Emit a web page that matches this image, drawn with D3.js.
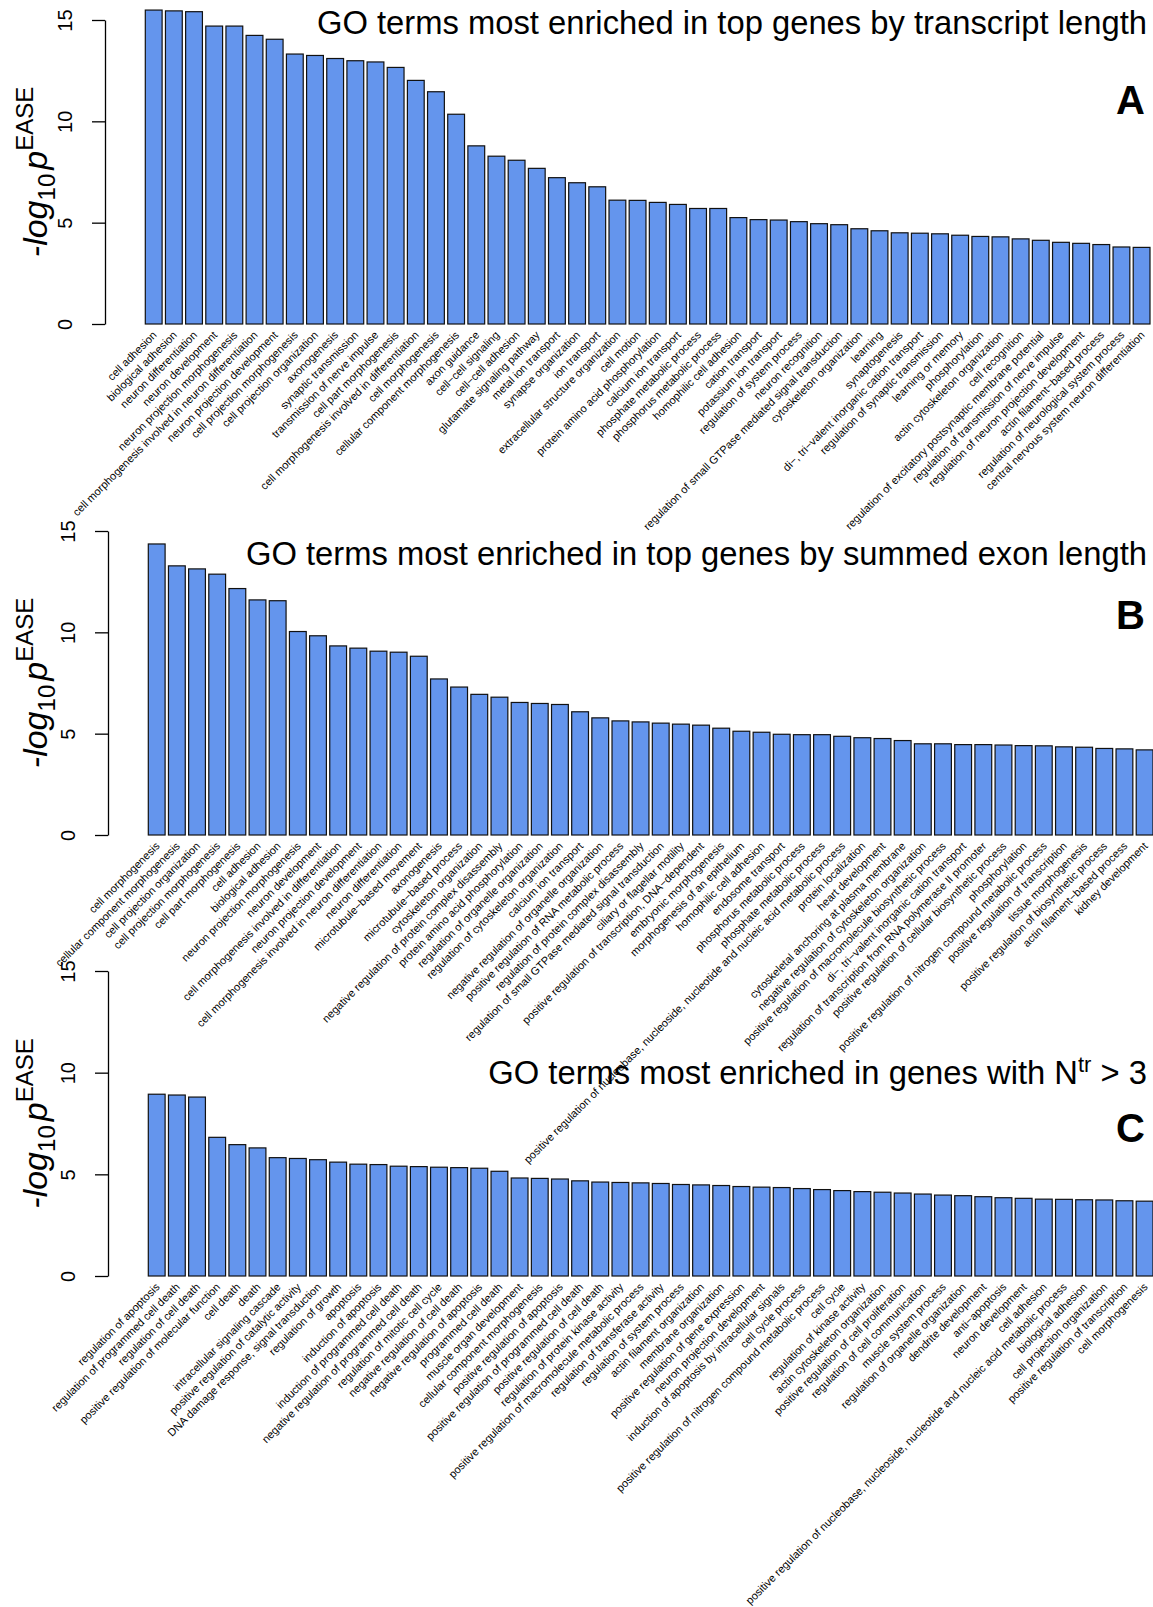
<!DOCTYPE html>
<html>

<head>
  <meta charset="utf-8">
  <title>GO terms</title>
  <style>
    body { margin: 0; background: #fff; }
    text { font-family: "Liberation Sans", Arial, Helvetica, sans-serif; }
  </style>
</head>

<body>
  <svg width="1153" height="1607"></svg>
  <script src="https://d3js.org/d3.v7.min.js"></script>
  <script>
    // ---- data ----
    var yTicks = [0, 5, 10, 15];

    var labelsA = ["cell adhesion", "biological adhesion", "neuron differentiation", "neuron development",
      "neuron projection morphogenesis", "cell morphogenesis involved in neuron differentiation",
      "neuron projection development", "cell projection morphogenesis", "cell projection organization",
      "axonogenesis", "synaptic transmission", "transmission of nerve impulse", "cell part morphogenesis",
      "cell morphogenesis involved in differentiation", "cell morphogenesis", "cellular component morphogenesis",
      "axon guidance", "cell\u2212cell signaling", "cell\u2212cell adhesion", "glutamate signaling pathway",
      "metal ion transport", "synapse organization", "ion transport", "extracellular structure organization",
      "cell motion", "protein amino acid phosphorylation", "calcium ion transport", "phosphate metabolic process",
      "phosphorus metabolic process", "homophilic cell adhesion", "cation transport", "potassium ion transport",
      "regulation of system process", "neuron recognition", "regulation of small GTPase mediated signal transduction",
      "cytoskeleton organization", "learning", "synaptogenesis", "di\u2212, tri\u2212valent inorganic cation transport",
      "regulation of synaptic transmission", "learning or memory", "phosphorylation",
      "actin cytoskeleton organization", "cell recognition", "regulation of excitatory postsynaptic membrane potential",
      "regulation of transmission of nerve impulse", "regulation of neuron projection development",
      "actin filament\u2212based process", "regulation of neurological system process",
      "central nervous system neuron differentiation"];
    var valuesA = [15.49, 15.45, 15.41, 14.70, 14.70, 14.24, 14.05, 13.32, 13.25, 13.10,
      12.99, 12.93, 12.66, 12.02, 11.46, 10.35, 8.79, 8.28, 8.08, 7.68,
      7.22, 6.97, 6.77, 6.11, 6.10, 6.00, 5.90, 5.70, 5.70, 5.25,
      5.15, 5.13, 5.05, 4.95, 4.90, 4.70, 4.60, 4.50, 4.48, 4.45,
      4.38, 4.32, 4.30, 4.20, 4.13, 4.03, 3.98, 3.92, 3.80, 3.78];

    var labelsB = ["cell morphogenesis", "cellular component morphogenesis", "cell projection organization",
      "cell projection morphogenesis", "cell part morphogenesis", "cell adhesion", "biological adhesion",
      "neuron projection morphogenesis", "neuron development", "cell morphogenesis involved in differentiation",
      "neuron projection development", "cell morphogenesis involved in neuron differentiation",
      "neuron differentiation", "microtubule\u2212based movement", "axonogenesis", "microtubule\u2212based process",
      "cytoskeleton organization", "negative regulation of protein complex disassembly",
      "protein amino acid phosphorylation", "regulation of organelle organization",
      "regulation of cytoskeleton organization", "calcium ion transport",
      "negative regulation of organelle organization", "positive regulation of RNA metabolic process",
      "regulation of protein complex disassembly", "regulation of small GTPase mediated signal transduction",
      "ciliary or flagellar motility", "positive regulation of transcription, DNA\u2212dependent",
      "embryonic morphogenesis", "morphogenesis of an epithelium", "homophilic cell adhesion",
      "endosome transport", "phosphorus metabolic process", "phosphate metabolic process",
      "positive regulation of nucleobase, nucleoside, nucleotide and nucleic acid metabolic process",
      "protein localization", "heart development", "cytoskeletal anchoring at plasma membrane",
      "negative regulation of cytoskeleton organization", "positive regulation of macromolecule biosynthetic process",
      "di\u2212, tri\u2212valent inorganic cation transport", "regulation of transcription from RNA polymerase II promoter",
      "positive regulation of cellular biosynthetic process", "phosphorylation",
      "positive regulation of nitrogen compound metabolic process", "positive regulation of transcription",
      "tissue morphogenesis", "positive regulation of biosynthetic process", "actin filament\u2212based process",
      "kidney development"];
    var valuesB = [14.36, 13.28, 13.13, 12.87, 12.16, 11.60, 11.56, 10.04, 9.83, 9.33,
      9.22, 9.07, 9.02, 8.82, 7.70, 7.30, 6.94, 6.80, 6.54, 6.49,
      6.44, 6.08, 5.78, 5.63, 5.58, 5.52, 5.47, 5.42, 5.27, 5.12,
      5.07, 4.97, 4.95, 4.95, 4.87, 4.80, 4.76, 4.66, 4.50, 4.50,
      4.46, 4.46, 4.44, 4.41, 4.40, 4.35, 4.33, 4.27, 4.25, 4.20];

    var labelsC = ["regulation of apoptosis", "regulation of programmed cell death", "regulation of cell death",
      "positive regulation of molecular function", "cell death", "death", "intracellular signaling cascade",
      "positive regulation of catalytic activity", "DNA damage response, signal transduction",
      "regulation of growth", "apoptosis", "induction of apoptosis", "induction of programmed cell death",
      "negative regulation of programmed cell death", "regulation of mitotic cell cycle",
      "negative regulation of cell death", "negative regulation of apoptosis", "programmed cell death",
      "muscle organ development", "cellular component morphogenesis", "positive regulation of apoptosis",
      "positive regulation of programmed cell death", "positive regulation of cell death",
      "regulation of protein kinase activity", "positive regulation of macromolecule metabolic process",
      "regulation of transferase activity", "regulation of system process", "actin filament organization",
      "membrane organization", "positive regulation of gene expression", "neuron projection development",
      "induction of apoptosis by intracellular signals", "cell cycle process",
      "positive regulation of nitrogen compound metabolic process", "cell cycle", "regulation of kinase activity",
      "actin cytoskeleton organization", "positive regulation of cell proliferation",
      "regulation of cell communication", "muscle system process", "regulation of organelle organization",
      "dendrite development", "anti\u2212apoptosis", "neuron development", "cell adhesion",
      "positive regulation of nucleobase, nucleoside, nucleotide and nucleic acid metabolic process",
      "biological adhesion", "cell projection organization", "positive regulation of transcription",
      "cell morphogenesis"];
    var valuesC = [8.94, 8.90, 8.80, 6.82, 6.46, 6.30, 5.82, 5.78, 5.72, 5.60,
      5.50, 5.48, 5.40, 5.38, 5.35, 5.33, 5.30, 5.15, 4.82, 4.80,
      4.77, 4.68, 4.62, 4.60, 4.58, 4.55, 4.50, 4.48, 4.45, 4.40,
      4.37, 4.35, 4.30, 4.25, 4.20, 4.15, 4.12, 4.08, 4.03, 3.98,
      3.95, 3.90, 3.85, 3.82, 3.78, 3.77, 3.75, 3.74, 3.70, 3.68];

    // ---- layout of the three stacked panels ----
    var panels = [
      { labels: labelsA, values: valuesA, y0: 324, y15: 20, axisX: 105, x0: 145.3, x1: 1150,
        title: "GO terms most enriched in top genes by transcript length", titleY: 34, letter: "A", letterY: 113 },
      { labels: labelsB, values: valuesB, y0: 835, y15: 531, axisX: 108, x0: 148.3, x1: 1153,
        title: "GO terms most enriched in top genes by summed exon length", titleY: 565, letter: "B", letterY: 628 },
      { labels: labelsC, values: valuesC, y0: 1276, y15: 971, axisX: 108, x0: 148.3, x1: 1153,
        title: "GO terms most enriched in genes with N", sup: "tr", tail: " > 3", titleY: 1084, letter: "C", letterY: 1141 }
    ];

    var svg = d3.select("svg");

    panels.forEach(function (p) {
      var g = svg.append("g");

      var x = d3.scaleBand()
        .domain(d3.range(p.values.length))
        .range([p.x0, p.x1])
        .paddingInner(0.2 / 1.2)
        .paddingOuter(0);
      var y = d3.scaleLinear().domain([0, 15]).range([p.y0, p.y15]);

      // bars
      g.selectAll("rect")
        .data(p.values)
        .enter()
        .append("rect")
        .attr("x", (d, i) => x(i))
        .attr("y", d => y(d))
        .attr("width", x.bandwidth())
        .attr("height", d => y(0) - y(d))
        .attr("fill", "#6495ED")
        .attr("stroke", "#111")
        .attr("stroke-width", 1.2);

      // y axis, R style with vertical tick labels
      var axis = g.append("g")
        .attr("transform", "translate(" + p.axisX + ",0)")
        .call(d3.axisLeft(y).tickValues(yTicks).tickSize(13).tickSizeOuter(0));
      axis.select(".domain").attr("stroke", "#000").attr("stroke-width", 1.3);
      axis.selectAll(".tick line").attr("stroke", "#000").attr("stroke-width", 1.3);
      axis.selectAll(".tick text")
        .attr("x", null)
        .attr("dy", null)
        .attr("text-anchor", "middle")
        .attr("transform", "translate(-33,0) rotate(-90)")
        .attr("font-size", 20)
        .attr("font-family", "Liberation Sans, Arial, sans-serif")
        .attr("fill", "#000");

      // rotated category labels
      g.selectAll(".lab")
        .data(p.labels)
        .enter()
        .append("text")
        .attr("class", "lab")
        .attr("transform", (d, i) => "translate(" + (x(i) + x.bandwidth() / 2 + 1) + "," + (p.y0 + 9) + ") rotate(-45)")
        .attr("text-anchor", "end")
        .attr("dy", "0.35em")
        .attr("font-size", 11)
        .attr("fill", "#000")
        .text(d => d);

      // y label: -log10 p^EASE
      var yl = g.append("text")
        .attr("transform", "translate(47," + ((p.y0 + p.y15) / 2) + ") rotate(-90)")
        .attr("text-anchor", "middle")
        .attr("font-size", 34)
        .attr("fill", "#000");
      yl.append("tspan").attr("font-style", "italic").text("-log");
      yl.append("tspan").attr("font-size", 24).attr("dy", 8).text("10");
      yl.append("tspan").attr("font-style", "italic").attr("dx", 4).attr("dy", -8).text("p");
      yl.append("tspan").attr("font-size", 24).attr("dy", -14).text("EASE");

      // title
      var t = g.append("text")
        .attr("x", 1147)
        .attr("y", p.titleY)
        .attr("text-anchor", "end")
        .attr("font-size", 32.75)
        .attr("fill", "#000");
      t.append("tspan").text(p.title);
      if (p.sup) {
        t.append("tspan").attr("font-size", 22).attr("dy", -12).text(p.sup);
        t.append("tspan").attr("dy", 12).text(p.tail);
      }

      // panel letter
      g.append("text")
        .attr("x", 1145)
        .attr("y", p.letterY + 1)
        .attr("text-anchor", "end")
        .attr("font-size", 40)
        .attr("font-weight", "bold")
        .attr("fill", "#000")
        .text(p.letter);
    });
  </script>

</body>

</html>
